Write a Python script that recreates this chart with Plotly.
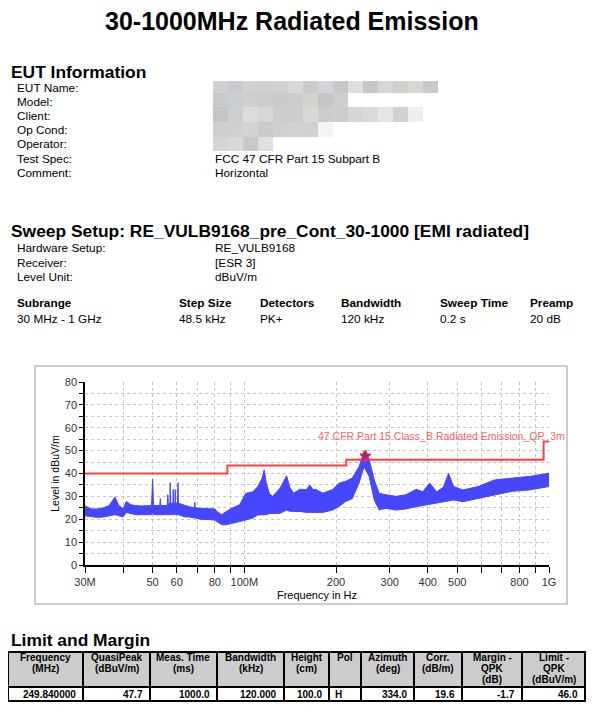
import plotly.graph_objects as go
import math

PAGE_W, PAGE_H = 599, 714
OFF = 8                      # browser default body margin
W, H = PAGE_W - 2 * OFF, PAGE_H - 2 * OFF
FONT = "Liberation Sans"

# ---------------- data (envelope of the PK+ sweep) ----------------
freq_mhz = [30, 31.5, 33, 34.5, 36, 37.6, 38.8, 40.0, 41.0, 42.5, 44, 46, 49.6, 50.0, 50.4,
            52.8, 53.0, 53.2, 55.9, 56.1, 56.3, 57.0, 57.1, 57.3, 58.3, 58.4, 58.6, 59.2, 59.3, 59.5,
            60.4, 60.6, 60.8, 62, 64, 66, 68.6, 68.8, 69, 72, 76, 80, 81.3, 84.3, 87.3, 91, 96.5,
            101, 106.6, 110.8, 114.5, 116.2, 118, 121, 124, 131, 137.7, 141, 145, 152, 160, 164,
            168, 172, 181, 195, 205, 215, 226, 238, 247, 257, 267, 277, 292, 315, 339, 367, 385,
            406, 428, 450, 468, 486, 522, 585, 663, 756, 860, 1000]
level_min = [21.5, 21, 20.8, 21, 21.5, 22, 21.5, 21, 23, 22.5, 22, 22, 22, 22.5, 22,
             22, 22, 22, 22, 22, 22, 22, 22.5, 22, 22, 22.5, 22, 22, 22.5, 22,
             22, 22.5, 22, 21.5, 21, 21, 20.5, 21, 20.5, 20, 20, 19.7, 19, 17.6, 17.6, 18.3, 19,
             19.7, 20.5, 21.9, 22, 22, 22, 22.5, 22.5, 22.6, 24, 23.5, 23.4, 23.4, 23, 23,
             23, 23, 23, 24, 25.7, 27.8, 29, 35.8, 43, 38.7, 28.4, 24.1, 24.8, 24, 24.5, 25.5, 26,
             26.5, 27, 27.5, 28, 28.4, 27.7, 29, 30.7, 32.2, 32.8, 34.3]
level_max = [25.8, 24.5, 24.5, 25, 26, 29.6, 26, 24.5, 27.8, 26.3, 26, 25.8, 26, 37.5, 26,
             26, 29, 26, 26, 30.7, 26.5, 27, 36, 27, 27, 33, 27, 27, 33, 27,
             27, 36, 27, 26.5, 26, 25.5, 25, 27.5, 25, 24.8, 24.5, 24.5, 23.4, 22, 23.4, 24.8, 26.3,
             31.3, 32, 34.3, 38, 41.6, 36, 31, 30, 33.6, 39, 34, 31.4, 33.1, 33, 35,
             33, 33, 31.4, 33, 35.8, 36.6, 38, 43, 49.6, 46, 37.2, 31.4, 30.7, 30, 30.7, 33.1, 32,
             35.8, 32, 34, 40.1, 34.3, 32.8, 34.3, 37.2, 38, 38.7, 40.1]

limit_freq = [30, 88, 216, 960, 1000]
limit_level = [40, 43.5, 46, 54, 54]
limit_name = "47 CFR Part 15 Class_B Radiated Emission_QP_3m"

peak_freq = [249.84]
peak_level = [47.7]

x_tickvals = [30, 40, 50, 60, 70, 80, 90, 100, 200, 300, 400, 500, 600, 700, 800, 900, 1000]
x_ticktext = ["30M", "", "50", "60", "", "80", "", "100M", "200", "300", "400", "500", "", "", "800", "", "1G"]

eut_labels = ["EUT Name:", "Model:", "Client:", "Op Cond:", "Operator:", "Test Spec:", "Comment:"]
eut_values = ["", "", "", "", "", "FCC 47 CFR Part 15 Subpart B", "Horizontal"]
setup_labels = ["Hardware Setup:", "Receiver:", "Level Unit:"]
setup_values = ["RE_VULB9168", "[ESR 3]", "dBuV/m"]
sweep_cols = ["Subrange", "Step Size", "Detectors", "Bandwidth", "Sweep Time", "Preamp"]
sweep_vals = ["30 MHz - 1 GHz", "48.5 kHz", "PK+", "120 kHz", "0.2 s", "20 dB"]

table_header = [["Frequency", "(MHz)"], ["QuasiPeak", "(dBuV/m)"], ["Meas. Time", "(ms)"],
                ["Bandwidth", "(kHz)"], ["Height", "(cm)"], ["Pol"], ["Azimuth", "(deg)"],
                ["Corr.", "(dB/m)"], ["Margin -", "QPK", "(dB)"], ["Limit -", "QPK", "(dBuV/m)"]]
table_row = ["249.840000", "47.7", "1000.0", "120.000", "100.0", "H", "334.0", "19.6", "-1.7", "46.0"]
table_align = ["right", "right", "right", "right", "right", "left", "right", "right", "right", "right"]

# pixelated (redacted) value rows: greys of the mosaic cells
redact_rows = [
    (81, 93, ["#d0d0d0", "#c9cacd", "#d3d1ce", "#cfd1d0", "#d1d1d3", "#d8d8d8", "#cdc9c8", "#d3d6d8",
              "#c8c8c8", "#dedede", "#c8c6c3", "#d6d6d8", "#d3d0cc", "#d6d6d3", "#c9c9cc"]),
    (93, 107, ["#c9c9c9", "#cbced0", "#d0cecc", "#c9cdcf", "#cbcbcb", "#cdcccb", "#d4d3ce", "#c6c6c9", "#cdcfcf"]),
    (107, 122, ["#c5c5c7", "#cdd0d0", "#dcdcdc", "#d8d7d5", "#cdcdcd", "#cfcdcb", "#d6d8da", "#cccccc",
                "#cdcdcd", "#d6d6d4", "#dadada", "#e6e6e8", "#d3d1cf", "#eeeff1"]),
    (122, 137, ["#ccd0d2", "#d0d0d2", "#d3d3d1", "#cdcbc9", "#cfd0d2", "#d3d3d5", "#d1d1d3", "#f3f5f4"]),
    (137, 151, ["#d5d5d7", "#d8d8d8", "#c9c9cb", "#e0e0e0"]),
]

# ---------------- helpers ----------------
def px(x):
    return (x - OFF) / W

def py(y):
    return 1 - (y - OFF) / H

fig = go.Figure()

BLUE = "#4646ff"
RED = "#ff4040"

fig.add_trace(go.Scatter(x=freq_mhz, y=level_min, mode="lines", line=dict(color=BLUE, width=1),
                         hoverinfo="skip", showlegend=False))
fig.add_trace(go.Scatter(x=freq_mhz, y=level_max, mode="lines", line=dict(color=BLUE, width=1),
                         fill="tonexty", fillcolor=BLUE, hoverinfo="skip", showlegend=False))
fig.add_trace(go.Scatter(x=limit_freq, y=limit_level, mode="lines", line=dict(color=RED, width=2, shape="hv"),
                         showlegend=False))
fig.add_trace(go.Scatter(x=peak_freq, y=peak_level, mode="markers",
                         marker=dict(symbol="star", size=8, color="#7a20c0",
                                     line=dict(color="#e02040", width=1.5)), showlegend=False))

x0, x1, y0, y1 = 85, 549, 382, 565
GRID = "#c4c4c4"
fig.update_layout(
    template="none",
    width=W, height=H, margin=dict(l=0, r=0, t=0, b=0, pad=0, autoexpand=False),
    paper_bgcolor="white", plot_bgcolor="white", showlegend=False,
    font=dict(family=FONT, color="black", size=12),
    xaxis=dict(type="log", range=[math.log10(30), math.log10(1000)], domain=[px(x0), px(x1)],
               tickvals=x_tickvals, ticktext=x_ticktext, ticks="outside", ticklen=6, tickcolor="black",
               tickwidth=1, showline=True, linecolor="black", linewidth=1.5, zeroline=False,
               showgrid=True, gridcolor=GRID, griddash="dot", gridwidth=1, automargin=False,
               tickfont=dict(size=11, color="#333333", family=FONT),
               title=dict(text="Frequency in Hz", font=dict(size=11), standoff=4), anchor="y"),
    yaxis=dict(range=[0, 80], domain=[py(y1), py(y0)], dtick=10, ticks="outside", ticklen=4,
               tickcolor="black", tickwidth=1, showline=True, linecolor="black", linewidth=1.5, zeroline=False,
               showgrid=True, gridcolor=GRID, griddash="dot", gridwidth=1, automargin=False,
               minor=dict(dtick=5, ticks="outside", ticklen=4, tickcolor="black", showgrid=True,
                          gridcolor=GRID, griddash="dot"),
               tickfont=dict(size=11, color="#333333", family=FONT),
               title=dict(text="Level in dBuV/m", font=dict(size=10.5), standoff=3), anchor="x"),
    yaxis2=dict(range=[0, 80], overlaying="y", anchor="x", side="left", dtick=10, ticks="inside",
                ticklen=4, tickcolor="black", showticklabels=False, showgrid=False, zeroline=False,
                showline=False, automargin=False,
                minor=dict(dtick=5, ticks="inside", ticklen=4, tickcolor="black")),
)

shapes = []
# chart frame
shapes.append(dict(type="rect", xref="paper", yref="paper", x0=px(35), x1=px(567), y0=py(604), y1=py(366),
                   line=dict(color="#bcbcbc", width=1.5), layer="below"))
# redacted value mosaics
CELL = 15
for (ry0, ry1, tones) in redact_rows:
    for k, tone in enumerate(tones):
        shapes.append(dict(type="rect", xref="paper", yref="paper", x0=px(213 + k * CELL),
                           x1=px(213 + (k + 1) * CELL), y0=py(ry1), y1=py(ry0),
                           line=dict(width=0), fillcolor=tone, layer="below"))

ann = []
def text(x, y, s, size=11.8, bold=False, color="black", xanchor="left"):
    ann.append(dict(x=px(x), y=py(y), xref="paper", yref="paper", text=("<b>%s</b>" % s) if bold else s,
                    showarrow=False, xanchor=xanchor, yanchor="middle",
                    font=dict(size=size, color=color, family=FONT)))

text(292, 21, "30-1000MHz Radiated Emission", size=25, bold=True, xanchor="center")
text(9, 72, "EUT Information", size=17.4, bold=True)
for i, (lab, val) in enumerate(zip(eut_labels, eut_values)):
    yy = 88 + i * 14.1
    text(15, yy, lab)
    if val:
        text(213, yy, val)
text(9, 231, "Sweep Setup: RE_VULB9168_pre_Cont_30-1000 [EMI radiated]", size=17.4, bold=True)
for i, (lab, val) in enumerate(zip(setup_labels, setup_values)):
    yy = 248 + i * 14.5
    text(15, yy, lab)
    text(213, yy, val)
col_x = [15, 177, 258, 339, 438, 528]
for cx, c, v in zip(col_x, sweep_cols, sweep_vals):
    text(cx, 303, c, bold=True)
    text(cx, 319, v)
text(567, 436, limit_name, size=10.5, color="#ff6060", xanchor="right")
text(9, 640, "Limit and Margin", size=17.4, bold=True)

# ---------------- table built from the arrays ----------------
col_edges = [8, 83, 150, 217, 284, 329, 361, 414, 462, 522, 585]
t_top, t_mid, t_bot = 652, 687, 701
shapes.append(dict(type="rect", xref="paper", yref="paper", x0=px(8), x1=px(585), y0=py(t_mid), y1=py(t_top),
                   line=dict(width=0), fillcolor="#cccccc", layer="below"))
shapes.append(dict(type="rect", xref="paper", yref="paper", x0=px(8), x1=px(585), y0=py(t_bot), y1=py(t_top),
                   line=dict(color="black", width=2)))
shapes.append(dict(type="line", xref="paper", yref="paper", x0=px(8), x1=px(585), y0=py(t_mid), y1=py(t_mid),
                   line=dict(color="black", width=2)))
for e in col_edges[1:-1]:
    shapes.append(dict(type="line", xref="paper", yref="paper", x0=px(e), x1=px(e), y0=py(t_bot), y1=py(t_top),
                       line=dict(color="black", width=2)))
for i, lines in enumerate(table_header):
    cx = (col_edges[i] + col_edges[i + 1]) / 2
    for j, ln in enumerate(lines):
        text(cx, 657.5 + 11 * j, ln, size=10, bold=True, xanchor="center")
for i, v in enumerate(table_row):
    if table_align[i] == "left":
        text(col_edges[i] + 4, 694.5, v, size=10, bold=True, xanchor="left")
    else:
        text(col_edges[i + 1] - 5, 694.5, v, size=10, bold=True, xanchor="right")

fig.update_layout(shapes=shapes, annotations=ann)

fig.write_html("out.html")
